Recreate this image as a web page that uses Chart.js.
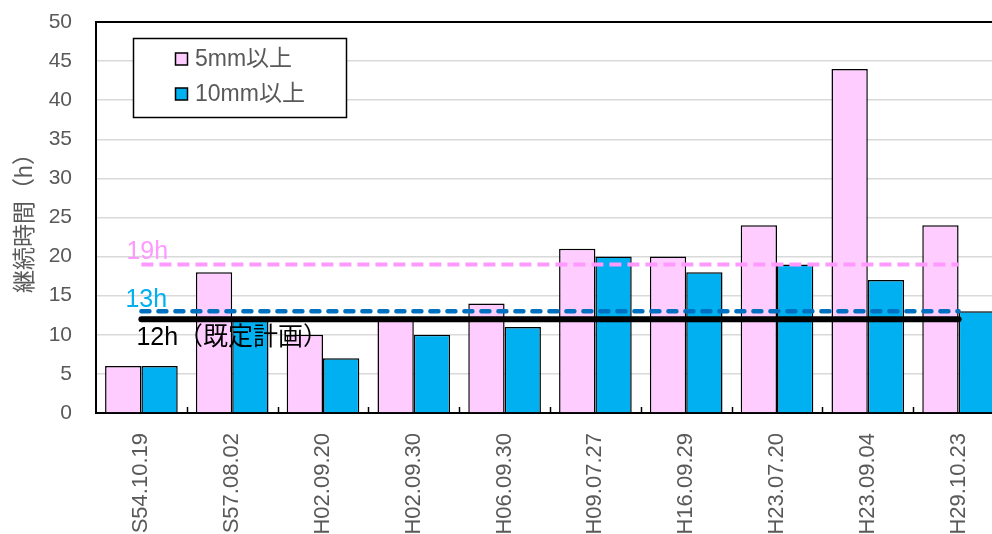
<!DOCTYPE html>
<html lang="ja">
<head>
<meta charset="utf-8">
<title>継続時間</title>
<script src="https://cdn.jsdelivr.net/npm/chart.js@4/dist/chart.umd.min.js"></script>
<style>
  html, body { margin: 0; padding: 0; background: #fff; overflow: hidden; }
  #wrap { position: relative; width: 1010px; height: 534px; }
  #chart { display: block; }
</style>
</head>
<body>
<div id="wrap"><canvas id="chart" width="1010" height="534"></canvas></div>
<script>
// Storm dates (Showa / Heisei era)
const categories = ['S54.10.19', 'S57.08.02', 'H02.09.20', 'H02.09.30', 'H06.09.30',
                    'H09.07.27', 'H16.09.29', 'H23.07.20', 'H23.09.04', 'H29.10.23'];
// Duration (hours) of rainfall of 5 mm/h or more
const hours5mm  = [6, 18, 10, 12, 14, 21, 20, 24, 44, 24];
// Duration (hours) of rainfall of 10 mm/h or more
const hours10mm = [6, 12, 7, 10, 11, 20, 18, 19, 17, 13];
// Reference durations
const level19 = 19;
const level13 = 13;
const level12 = 12;
const yMin = 0, yMax = 50, yStep = 5;

const FONT = "'Liberation Sans', 'Noto Sans CJK JP', sans-serif";
const GREY = '#595959';
const PINK = '#ffccff';
const BLUE = '#00b0f0';

const flat = v => categories.map(() => v);

// Outer frame, inward category ticks, legend box and reference-line captions
const decorations = {
  id: 'decorations',
  afterDatasetsDraw(chart) {
    const { ctx, chartArea: a, scales: { x, y } } = chart;
    ctx.save();
    // top frame line
    ctx.strokeStyle = '#000';
    ctx.lineWidth = 2;
    ctx.beginPath();
    ctx.moveTo(a.left, a.top);
    ctx.lineTo(a.right, a.top);
    ctx.stroke();
    // short ticks at category boundaries, pointing up into the plot
    ctx.lineWidth = 1.5;
    for (let i = 1; i < categories.length; i++) {
      const bx = (x.getPixelForValue(i - 1) + x.getPixelForValue(i)) / 2;
      ctx.beginPath();
      ctx.moveTo(Math.round(bx) + 0.5, a.bottom);
      ctx.lineTo(Math.round(bx) + 0.5, a.bottom - 6);
      ctx.stroke();
    }
    // reference captions
    const x0 = x.getPixelForValue(0);
    ctx.font = '25px ' + FONT;
    ctx.textAlign = 'left';
    ctx.textBaseline = 'alphabetic';
    ctx.fillStyle = '#ff99ff';
    ctx.fillText('19h', x0 - 15, y.getPixelForValue(level19) - 5);
    ctx.fillStyle = BLUE;
    ctx.fillText('13h', x0 - 16, y.getPixelForValue(level13) - 4);
    ctx.fillStyle = '#000';
    ctx.textBaseline = 'top';
    ctx.fillText('12h（既定計画）', x0 - 5, y.getPixelForValue(level12) + 6);

    // legend
    const lx = a.left + 37, ly = a.top + 16, lw = 213, lh = 79;
    ctx.fillStyle = '#fff';
    ctx.fillRect(lx, ly, lw, lh);
    ctx.strokeStyle = '#000';
    ctx.lineWidth = 1.5;
    ctx.strokeRect(lx + 0.5, ly + 0.5, lw, lh);
    const items = chart.data.datasets.filter(d => d.type !== 'line');
    ctx.font = '23px ' + FONT;
    ctx.textBaseline = 'middle';
    items.forEach((d, i) => {
      const cy = ly + 21 + i * 35;
      ctx.fillStyle = d.backgroundColor;
      ctx.fillRect(lx + 42.5, cy - 6, 12, 12);
      ctx.strokeStyle = '#000';
      ctx.lineWidth = 1.5;
      ctx.strokeRect(lx + 42.5, cy - 6, 12, 12);
      ctx.fillStyle = GREY;
      ctx.fillText(d.label, lx + 62, cy + 1);
    });
    ctx.restore();
  }
};

new Chart(document.getElementById('chart'), {
  type: 'bar',
  data: {
    labels: categories,
    datasets: [
      {
        type: 'line', label: '19h', data: flat(level19), order: 1,
        borderColor: '#ff99ff', borderWidth: 4, borderDash: [12, 6],
        pointRadius: 0, fill: false
      },
      {
        type: 'line', label: '13h', data: flat(level13), order: 1,
        borderColor: '#0070c0', borderWidth: 4.5, borderDash: [8, 9], borderCapStyle: 'round',
        pointRadius: 0, fill: false
      },
      {
        type: 'line', label: '12h', data: flat(level12), order: 1,
        borderColor: '#000', borderWidth: 6, borderCapStyle: 'round',
        pointRadius: 0, fill: false
      },
      {
        label: '5mm以上', data: hours5mm, order: 2,
        backgroundColor: PINK, borderColor: '#000', borderWidth: 1.5,
        barPercentage: 1.0, categoryPercentage: 0.8
      },
      {
        label: '10mm以上', data: hours10mm, order: 2,
        backgroundColor: BLUE, borderColor: '#000', borderWidth: 1.5,
        barPercentage: 1.0, categoryPercentage: 0.8
      }
    ]
  },
  options: {
    responsive: false,
    animation: false,
    devicePixelRatio: 1,
    layout: { padding: { top: 22, right: 6, left: 0, bottom: 0 } },
    plugins: {
      legend: { display: false },
      tooltip: { enabled: false }
    },
    scales: {
      x: {
        offset: true,
        grid: { display: false },
        border: { display: true, color: '#000', width: 2 },
        ticks: {
          color: GREY, font: { family: FONT, size: 22 },
          minRotation: 90, maxRotation: 90, padding: 12, autoSkip: false
        },
        afterFit(scale) { scale.height = 121; }
      },
      y: {
        min: yMin, max: yMax,
        grid: { color: '#d9d9d9', lineWidth: 1.5, drawTicks: false },
        border: { display: true, color: '#000', width: 2 },
        ticks: {
          stepSize: yStep, color: GREY, padding: 24,
          font: { family: FONT, size: 21 }
        },
        title: {
          display: true, text: '継続時間（h）', color: GREY,
          font: { family: FONT, size: 23 }, padding: { top: 12, bottom: 0 }
        },
        afterFit(scale) {
          scale.width = 96;
          scale.paddingTop = 0;
          scale.paddingBottom = 0;
        }
      }
    }
  },
  plugins: [decorations]
});
</script>
</body>
</html>
